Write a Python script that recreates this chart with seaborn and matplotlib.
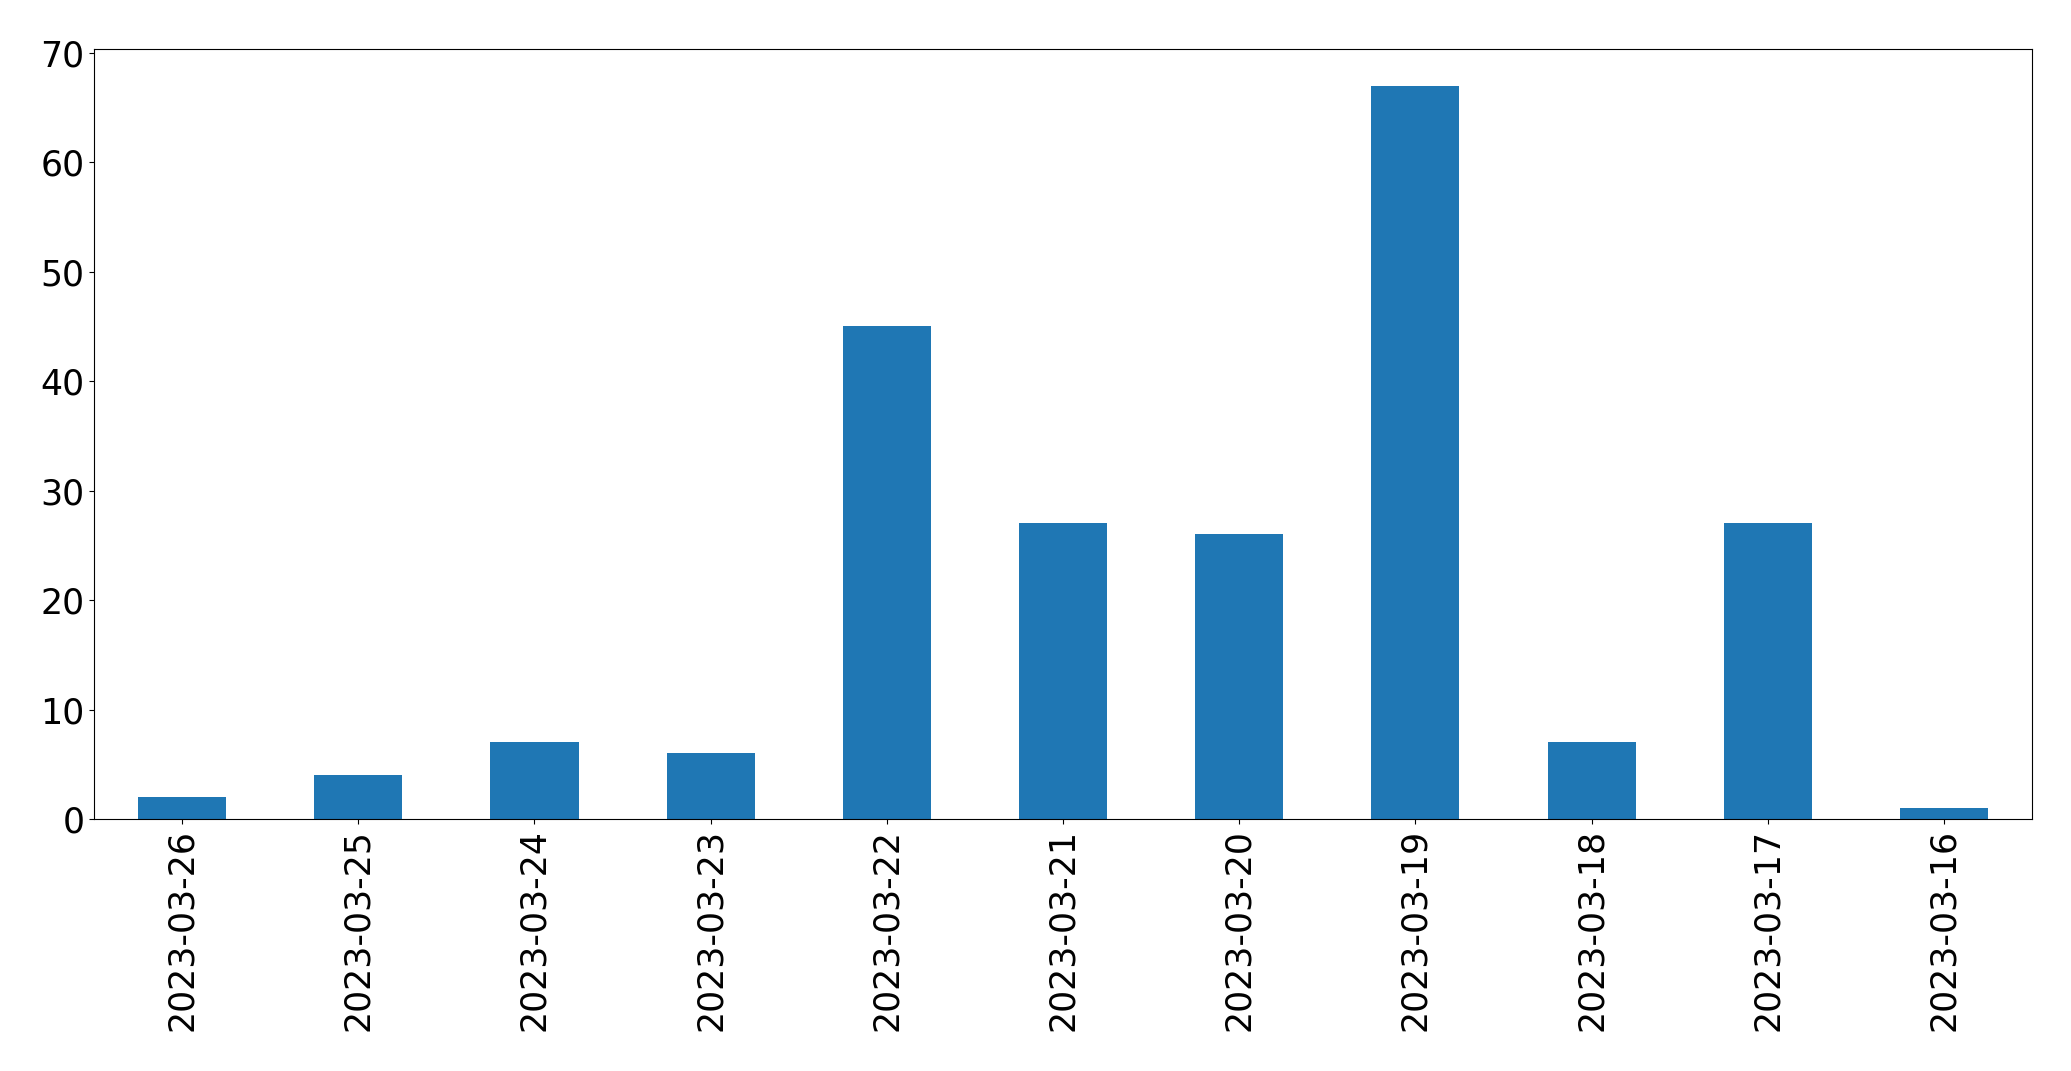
import numpy as np
import pandas as pd
import seaborn as sns
from matplotlib import pyplot as plt

# === data ===
dates = ['2023-03-26', '2023-03-25', '2023-03-24', '2023-03-23', '2023-03-22',
         '2023-03-21', '2023-03-20', '2023-03-19', '2023-03-18', '2023-03-17',
         '2023-03-16']
counts = [2, 4, 7, 6, 45, 27, 26, 67, 7, 27, 1]

df = pd.DataFrame({'date': dates, 'count': counts})

fig, ax = plt.subplots(figsize=(20.71, 10.71), dpi=100)
fig.subplots_adjust(left=0.0454, right=0.9812, top=0.9542, bottom=0.2353)

sns.barplot(data=df, x='date', y='count', order=dates, color='#1f77b4',
            saturation=1, width=0.5, ax=ax)

ax.set_xlim(-0.5, len(dates) - 0.5)
ax.set_ylim(0, max(counts) * 1.05)
ax.set_xlabel('')
ax.set_ylabel('')
ax.tick_params(axis='both', labelsize=25)
ax.tick_params(axis='x', labelrotation=90)

fig.savefig('out.png', dpi=100)
